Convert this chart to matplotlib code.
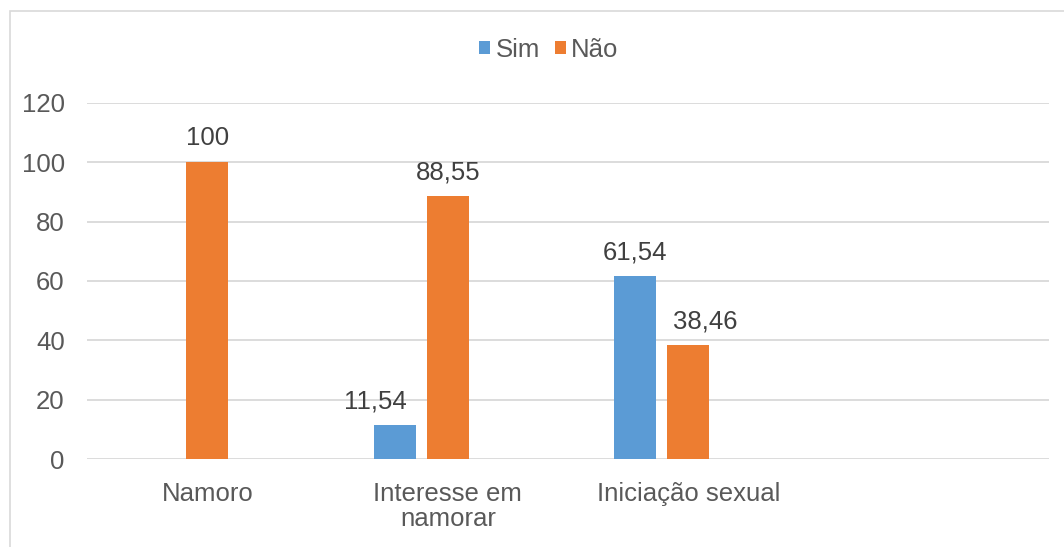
import numpy as np
import matplotlib
matplotlib.use("Agg")
import matplotlib.pyplot as plt
import matplotlib.patches as patches

plt.rcParams['font.family'] = ['Liberation Sans', 'DejaVu Sans']

# Dados do gráfico
categorias = ["Namoro", "Interesse em\nnamorar", "Iniciação sexual", ""]
sim = [np.nan, 11.54, 61.54]
nao = [100, 88.55, 38.46]
series = ["Sim", "Não"]
cores = ["#5B9BD5", "#ED7D31"]

fs = 18.5

fig = plt.figure(figsize=(10.64, 5.47), dpi=100)
ax = fig.add_axes([0.0818, 0.1603, 0.986 - 0.0818, 0.8123 - 0.1603])

# moldura cinza do gráfico
moldura = patches.Rectangle((10 / 1064, -0.05), 1.1, 1 - 11 / 547 + 0.05,
                            transform=fig.transFigure, fill=False,
                            edgecolor='#d9d9d9', linewidth=1.2, clip_on=False)
fig.patches.append(moldura)

x = np.arange(len(nao))
w = 0.175
b1 = ax.bar(x - 0.22, sim, w, color=cores[0], label=series[0], zorder=3)
b2 = ax.bar(x, nao, w, color=cores[1], label=series[1], zorder=3)

# rótulos das barras (alguns deslocados à mão, como no original)
desloc = {(0, 1): -14, (1, 2): 12}
for i, (barras, valores) in enumerate(((b1, sim), (b2, nao))):
    for j, (r, v) in enumerate(zip(barras, valores)):
        if np.isnan(v):
            continue
        txt = f"{v:g}".replace('.', ',')
        ax.annotate(txt, (r.get_x() + r.get_width() / 2, v),
                    xytext=(desloc.get((i, j), 0), 12),
                    textcoords='offset points', ha='center', va='baseline',
                    fontsize=fs, color='#404040')

ax.set_ylim(0, 120)
ax.set_yticks(range(0, 121, 20))
ax.set_xlim(-0.5, 3.5)
ax.set_xticks(np.arange(len(categorias)))
ax.set_xticklabels(categorias, linespacing=1.1)
ax.yaxis.grid(True, color='#d9d9d9', linewidth=1.3, zorder=0)
ax.set_axisbelow(True)
for s in ax.spines.values():
    s.set_visible(False)
ax.tick_params(axis='both', length=0, labelsize=fs, colors='#595959')
ax.tick_params(axis='y', pad=16)
ax.tick_params(axis='x', pad=16)

fig.legend(handles=[b1, b2], loc='center', bbox_to_anchor=(549 / 1064, 1 - 50 / 547),
           ncol=2, frameon=False, fontsize=fs, handlelength=0.42, handleheight=0.42,
           handletextpad=0.2, columnspacing=0.6, labelcolor='#595959')

fig.savefig("out.png", dpi=100, facecolor='white')
